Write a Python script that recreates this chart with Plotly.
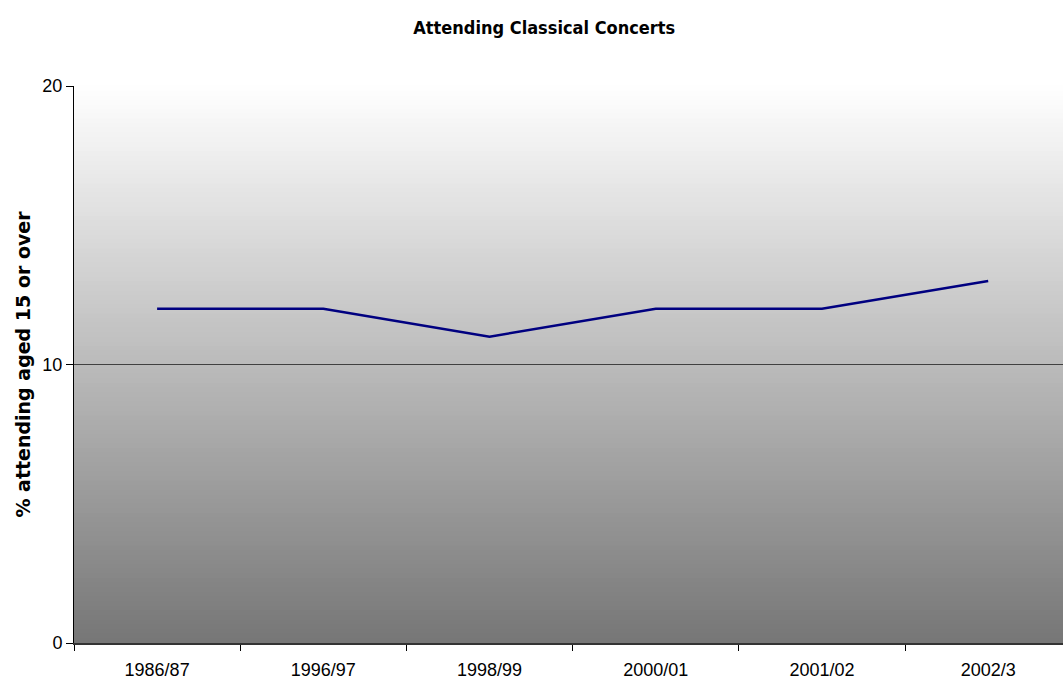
import plotly.graph_objects as go

# Survey years and share of people aged 15+ attending classical concerts (%)
years = ["1986/87", "1996/97", "1998/99", "2000/01", "2001/02", "2002/3"]
attending_pct = [12, 12, 11, 12, 12, 13]
y_ticks = [0, 10, 20]

fig = go.Figure()

fig.add_trace(go.Scatter(
    x=years, y=attending_pct, mode="lines",
    line=dict(color="#000080", width=2.5),
    hoverinfo="x+y", showlegend=False,
))

# Vertical white-to-grey gradient behind the plot area, built from thin bands
n_bands = 120
top_rgb, bot_rgb = (255, 255, 255), (118, 118, 118)
shapes = []
for i in range(n_bands):
    t0, t1 = i / n_bands, (i + 1) / n_bands
    f = (i + 0.5) / n_bands  # 0 at bottom, 1 at top
    c = tuple(round(bot_rgb[k] + (top_rgb[k] - bot_rgb[k]) * f) for k in range(3))
    shapes.append(dict(
        type="rect", xref="x domain", yref="y domain",
        x0=0, x1=1, y0=t0, y1=t1 + 0.002,
        fillcolor=f"rgb{c}", line=dict(width=0), layer="below",
    ))

tick_font = dict(family="Liberation Sans, Arial, sans-serif", size=18, color="black")

fig.update_layout(
    width=1063, height=684,
    margin=dict(l=74, r=0, t=86, b=41),
    paper_bgcolor="white", plot_bgcolor="white",
    shapes=shapes,
    title=dict(
        text="<b>Attending Classical Concerts</b>",
        x=0.512, xanchor="center", y=0.96, yanchor="middle",
        font=dict(family="DejaVu Sans Condensed, Liberation Sans Narrow, sans-serif",
                  size=18, color="black"),
    ),
    xaxis=dict(
        type="category", categoryorder="array", categoryarray=years,
        range=[-0.5, 5.45],
        tickson="boundaries", ticks="outside", ticklen=6, tickcolor="black",
        showgrid=False, showline=True, linecolor="#333333", linewidth=1.5,
        tickfont=tick_font, ticklabelstandoff=10, automargin=False,
        zeroline=False,
    ),
    yaxis=dict(
        range=[0, 20], tickvals=y_ticks,
        ticks="outside", ticklen=7, tickcolor="black",
        showgrid=True, gridcolor="#404040", gridwidth=1,
        showline=True, linecolor="black", linewidth=1,
        zeroline=False, automargin=False,
        tickfont=tick_font,
        title=dict(
            text="<b>% attending aged 15 or over</b>", standoff=6,
            font=dict(family="DejaVu Sans, sans-serif", size=19, color="black"),
        ),
    ),
)

fig.write_html("out.html")
